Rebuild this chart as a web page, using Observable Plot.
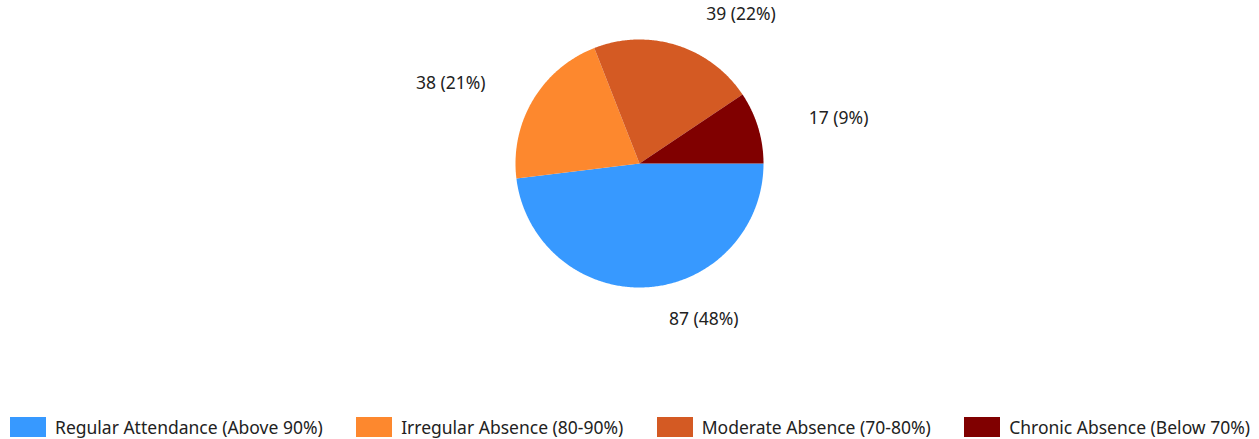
<!DOCTYPE html>
<html>
<head>
<meta charset="utf-8">
<script src="https://cdn.jsdelivr.net/npm/d3@7"></script>
<script src="https://cdn.jsdelivr.net/npm/@observablehq/plot@0.6"></script>
<style>
  html, body { margin: 0; padding: 0; background: #fff; }
  body { width: 1259px; height: 439px; overflow: hidden; font-family: "Segoe UI", "Noto Sans", "Open Sans", sans-serif; }
  #chart svg { display: block; }
  #legend { display: flex; justify-content: space-between; align-items: center; padding: 0 9px 0 10px; margin-top: 11px; height: 32px; font-size: 17.5px; color: #222; }
  .item { display: flex; align-items: center; white-space: nowrap; }
  .sw { width: 36px; height: 20px; margin-right: 9px; }
</style>
</head>
<body>
<div id="chart"></div>
<div id="legend"></div>
<script>
const categories = ["Regular Attendance (Above 90%)", "Irregular Absence (80-90%)", "Moderate Absence (70-80%)", "Chronic Absence (Below 70%)"];
const counts = [87, 38, 39, 17];
const colors = ["#3799ff", "#fd882e", "#d45a23", "#800000"];

const W = 1259, H = 400, CX = 639, CY = 163, R = 124;
const total = d3.sum(counts);

// angles clockwise from east (screen), in radians
let acc = 0;
const slices = categories.map((name, i) => {
  const a0 = acc / total * 2 * Math.PI;
  acc += counts[i];
  const a1 = acc / total * 2 * Math.PI;
  return {name, value: counts[i], a0, a1, pct: Math.round(counts[i] / total * 100)};
});

// polygon outline of each slice (center + arc), in unit-pixel data coordinates (y up)
const pts = [];
for (const s of slices) {
  pts.push({name: s.name, x: 0, y: 0});
  const n = Math.max(8, Math.ceil((s.a1 - s.a0) / 0.01));
  for (let k = 0; k <= n; k++) {
    const a = s.a0 + (s.a1 - s.a0) * k / n;
    pts.push({name: s.name, x: R * Math.cos(a), y: -R * Math.sin(a)});
  }
}

const labels = slices.map(s => {
  const m = (s.a0 + s.a1) / 2;
  const c = Math.cos(m), sn = Math.sin(m);
  const r = R + 32;
  const anchor = c >= 0 ? "start" : "end";
  const dx = anchor === "start" ? 20 : -20;
  return {x: r * c + dx, y: -r * sn, anchor, text: `${s.value} (${s.pct}%)`};
});

const plot = Plot.plot({
  width: W, height: H,
  margin: 0,
  x: {domain: [-CX, W - CX], range: [0, W], axis: null},
  y: {domain: [-(H - CY), CY], range: [H, 0], axis: null},
  color: {domain: categories, range: colors},
  style: {fontFamily: '"Segoe UI", "Noto Sans", "Open Sans", sans-serif', fontSize: "17.5px", color: "#222"},
  marks: [
    Plot.line(pts, {x: "x", y: "y", z: "name", fill: "name", stroke: "none", curve: "linear"}),
    ...["start", "end"].map(anc =>
      Plot.text(labels.filter(l => l.anchor === anc), {x: "x", y: "y", text: "text", textAnchor: anc, fontSize: 17.5, fill: "#222"})
    )
  ]
});
document.getElementById("chart").appendChild(plot);

const leg = d3.select("#legend");
categories.forEach((c, i) => {
  const it = leg.append("div").attr("class", "item");
  it.append("div").attr("class", "sw").style("background", colors[i]);
  it.append("span").text(c);
});
</script>
</body>
</html>
